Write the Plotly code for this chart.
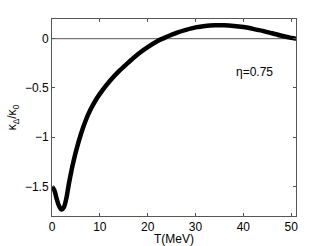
import plotly.graph_objects as go

T = [0, 0.5, 1, 1.5, 2, 2.5, 3, 3.5, 4, 4.5, 5, 6, 7, 8, 9, 10, 12, 14, 16, 18, 20, 22, 24, 26, 28,
     30, 32, 34, 36, 38, 40, 42, 44, 46, 48, 50, 51]
kappa = [-1.50, -1.54, -1.63, -1.70, -1.735, -1.71, -1.62, -1.48, -1.355, -1.245, -1.145, -0.975, -0.835,
         -0.725, -0.635, -0.56, -0.435, -0.33, -0.24, -0.155, -0.085, -0.025, 0.02, 0.06, 0.09,
         0.115, 0.13, 0.137, 0.137, 0.13, 0.118, 0.10, 0.08, 0.055, 0.03, 0.008, 0.0]
xticks = [0, 10, 20, 30, 40, 50]
yticks = [-1.5, -1, -0.5, 0]
ytick_labels = ["\u22121.5", "\u22121", "\u22120.5", "0"]

fig = go.Figure()
fig.add_trace(go.Scatter(x=[0, 51], y=[0, 0], mode="lines",
                         line=dict(color="#555555", width=1), hoverinfo="skip"))
fig.add_trace(go.Scatter(x=T, y=kappa, mode="lines",
                         line=dict(color="black", width=4.5, shape="spline", smoothing=0.8)))
fig.add_annotation(x=42.4, y=-0.34, text="\u03b7=0.75", showarrow=False,
                   font=dict(size=12, color="black"))

axis_common = dict(showline=True, linecolor="#555555", linewidth=1, mirror="ticks",
                   ticks="inside", ticklen=3, tickcolor="#555555", showgrid=False,
                   zeroline=False, automargin=False, tickfont=dict(size=12, color="black"))
fig.update_layout(
    width=327, height=246, margin=dict(l=52, r=31, t=19, b=30),
    paper_bgcolor="white", plot_bgcolor="white", showlegend=False,
    font=dict(family="Liberation Sans, Arial, sans-serif", color="black"),
    xaxis=dict(range=[0, 51], tickvals=xticks, title=dict(text="T(MeV)", standoff=0, font=dict(size=12)),
               **axis_common),
    yaxis=dict(range=[-1.8, 0.2], tickvals=yticks, ticktext=ytick_labels,
               title=dict(text="\u03ba<sub>\u0394</sub>/\u03ba<sub>0</sub>", standoff=5, font=dict(size=12)),
               **axis_common),
)
fig.write_html("out.html", config={"displayModeBar": False},
               post_script="document.body.style.margin='0';document.body.style.overflow='hidden';")
